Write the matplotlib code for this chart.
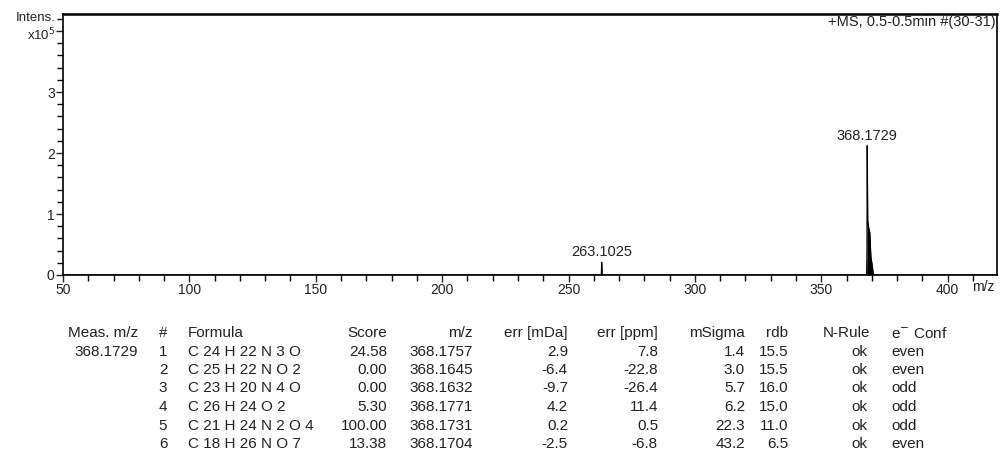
import matplotlib
matplotlib.use("Agg")
import matplotlib.pyplot as plt
from matplotlib.ticker import MultipleLocator

plt.rcParams['font.family'] = ['Liberation Sans', 'DejaVu Sans']

# spectrum (profile points), intensity in counts
mz = [50.0, 262.85, 263.0, 263.1025, 263.25, 263.5, 367.9, 368.05, 368.1729, 368.35,
      368.7, 369.17, 369.6, 370.17, 370.6, 419.5]
intens = [0, 0, 2000, 21000, 2000, 0, 0, 30000, 212000, 90000,
          78000, 70000, 30000, 15000, 0, 0]

peak_labels = ["263.1025", "368.1729"]
peak_mz = [263.1025, 368.1729]
peak_int = [21000, 212000]

# formula table
meas_mz = "368.1729"
cand_no = ["1", "2", "3", "4", "5", "6"]
formula = ["C 24 H 22 N 3 O", "C 25 H 22 N O 2", "C 23 H 20 N 4 O",
           "C 26 H 24 O 2", "C 21 H 24 N 2 O 4", "C 18 H 26 N O 7"]
score = ["24.58", "0.00", "0.00", "5.30", "100.00", "13.38"]
calc_mz = ["368.1757", "368.1645", "368.1632", "368.1771", "368.1731", "368.1704"]
err_mda = ["2.9", "-6.4", "-9.7", "4.2", "0.2", "-2.5"]
err_ppm = ["7.8", "-22.8", "-26.4", "11.4", "0.5", "-6.8"]
msigma = ["1.4", "3.0", "5.7", "6.2", "22.3", "43.2"]
rdb = ["15.5", "15.5", "16.0", "15.0", "11.0", "6.5"]
n_rule = ["ok", "ok", "ok", "ok", "ok", "ok"]
e_conf = ["even", "even", "odd", "odd", "odd", "even"]

W, H = 1002, 455
fig = plt.figure(figsize=(W / 100, H / 100), dpi=100)
ax = fig.add_axes([63 / W, 1 - 275 / H, (997 - 63) / W, (275 - 14) / H])

txt_c = "#222222"

y = [v / 1e5 for v in intens]
ax.plot(mz, y, color="black", lw=0.9)
ax.fill_between(mz, y, 0, color="black", lw=0)

ax.set_xlim(50, 419.5)
ax.set_ylim(0, 4.28)
ax.set_xticks([50, 100, 150, 200, 250, 300, 350, 400])
ax.xaxis.set_minor_locator(MultipleLocator(10))
ax.set_yticks([0, 1, 2, 3, 4])
ax.set_yticklabels(["0", "1", "2", "3", ""])
ax.yaxis.set_minor_locator(MultipleLocator(0.2))
ax.tick_params(which="major", length=5, width=1, labelsize=10, pad=1, colors=txt_c)
ax.tick_params(which="minor", length=4, width=1)
for s in ax.spines.values():
    s.set_linewidth(1.2)
ax.spines["top"].set_linewidth(1.8)

ytr = ax.get_yaxis_transform()
ax.text(-0.008, 4.22, "Intens.", transform=ytr, ha="right", va="center",
        fontsize=9.5, color=txt_c)
ax.text(-0.008, 3.93, "x10$^5$", transform=ytr, ha="right", va="center",
        fontsize=9.5, color=txt_c)
ax.text(0.999, 0.995, "+MS, 0.5-0.5min #(30-31)", transform=ax.transAxes, ha="right",
        va="top", fontsize=10.5, color=txt_c)
ax.text(0.985, -0.045, "m/z", transform=ax.transAxes, ha="center", va="center",
        fontsize=10, color=txt_c)

for lab, xm, yi in zip(peak_labels, peak_mz, peak_int):
    ax.annotate(lab, (xm, yi / 1e5), xytext=(0, 2), textcoords="offset points",
                ha="center", va="bottom", fontsize=10.5, color=txt_c)

# table
fs = 11


def fy(py):
    return 1 - py / H


heads = [("Meas. m/z", 138, "right"), ("#", 163, "center"), ("Formula", 188, "left"),
         ("Score", 387, "right"), ("m/z", 473, "right"), ("err [mDa]", 568, "right"),
         ("err [ppm]", 658, "right"), ("mSigma", 745, "right"), ("rdb", 788, "right"),
         ("N-Rule", 870, "right"), ("e$^{-}$ Conf", 891, "left")]
for t, px, al in heads:
    fig.text(px / W, fy(333), t, ha=al, va="center", fontsize=fs, color=txt_c)

row_py = [352, 370, 388, 407, 426, 444]
fig.text(138 / W, fy(row_py[0]), meas_mz, ha="right", va="center", fontsize=fs, color=txt_c)
cols = [(cand_no, 163, "center"), (formula, 188, "left"), (score, 387, "right"),
        (calc_mz, 473, "right"), (err_mda, 568, "right"), (err_ppm, 658, "right"),
        (msigma, 745, "right"), (rdb, 788, "right"), (n_rule, 867, "right"),
        (e_conf, 891, "left")]
for vals, px, al in cols:
    for v, py in zip(vals, row_py):
        fig.text(px / W, fy(py), v, ha=al, va="center", fontsize=fs, color=txt_c)

fig.savefig("out.png", dpi=100)
